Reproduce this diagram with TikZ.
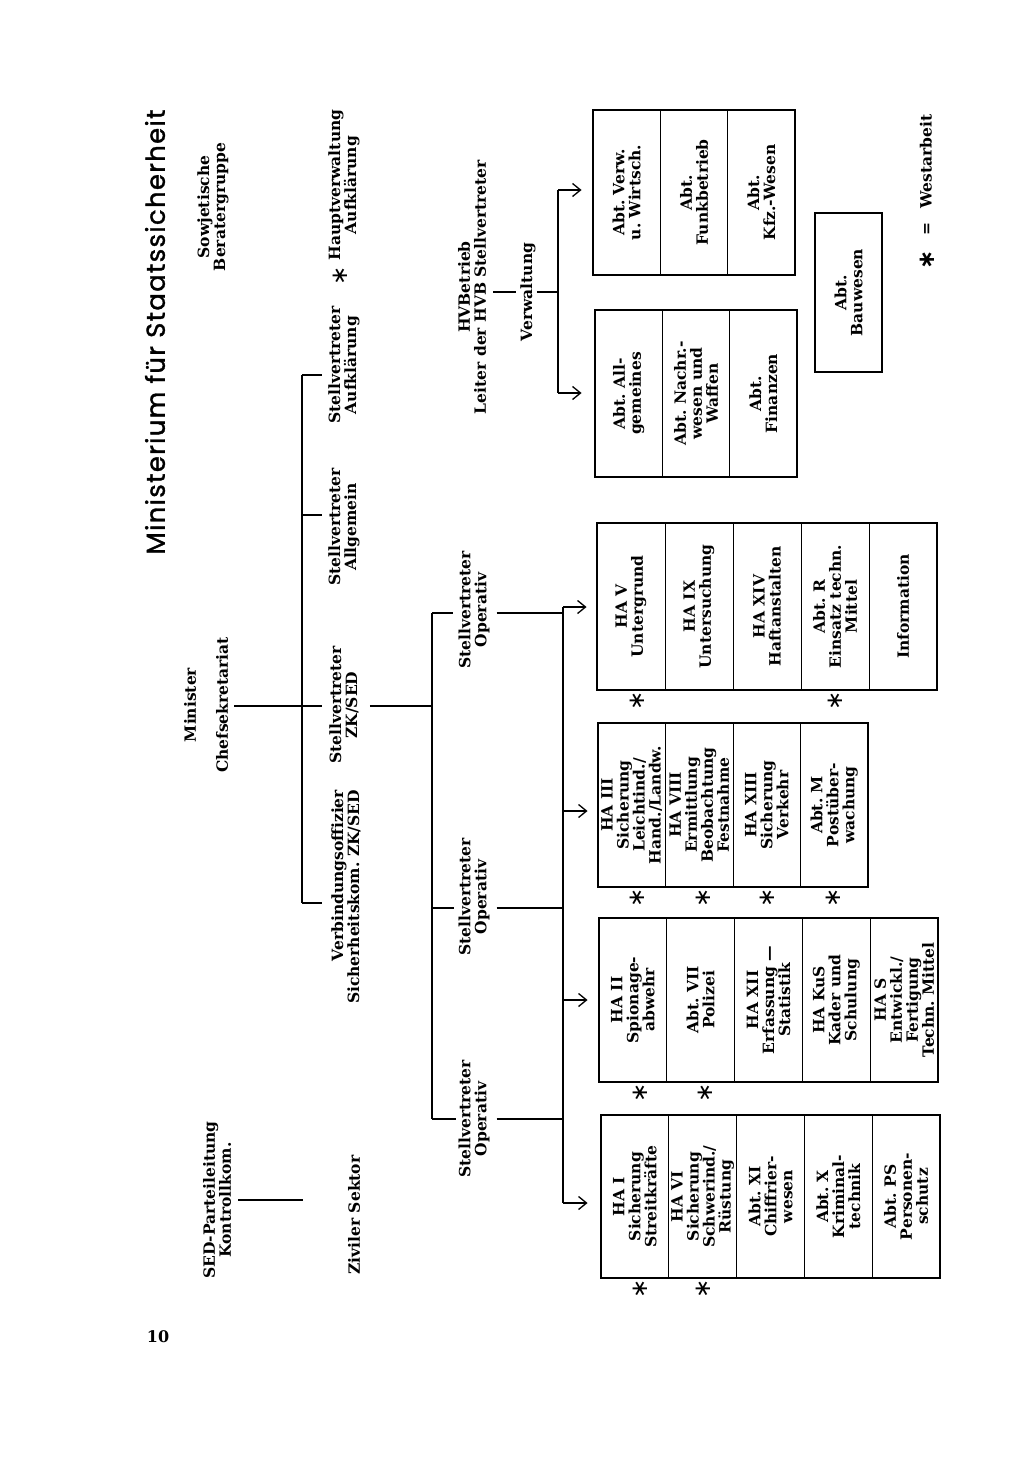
\documentclass[tikz,border=0pt]{standalone}
\usepackage{fontspec}
\setmainfont{DejaVu Serif}
\newfontfamily\titlefont{Poppins}[FakeBold=1.3,LetterSpace=5]
\newfontfamily\starfont{DejaVu Sans}
\usetikzlibrary{arrows.meta}
\newcommand{\mytxtfont}{\fontsize{15.5}{16}\bfseries\selectfont}
\newcommand{\westar}{{\starfont\fontsize{23}{23}\selectfont ∗}}
\frenchspacing
\begin{document}
\begin{tikzpicture}[x=1pt,y=-1pt,
  txt/.style={rotate=90, align=center, font=\mytxtfont, inner sep=1pt},
  cell/.style={draw, line width=0.9pt, rotate=90, align=center, font=\mytxtfont, inner sep=1pt},
  frame/.style={draw, line width=1.6pt},
  ln/.style={line width=1.3pt},
  arr/.style={line width=1.3pt, -{Straight Barb[length=8pt,width=13pt,line width=1.3pt]}},
  star/.style={rotate=90, inner sep=0pt}
]
\useasboundingbox (0,0) rectangle (1024,1466);

% ---- headings
\node[rotate=90, inner sep=0pt] (title) at (155,332) {\resizebox{445pt}{!}{\titlefont Ministerium für Staatssicherheit}};
\node[txt] (sowj) at (213,207) {Sowjetische\\Beratergruppe};
\node[txt] (hva) at (344,185) {Hauptverwaltung\\Aufklärung};
\node[star] (hvastar) at (340,276) {\westar};
\node[txt] (sva) at (344,365) {Stellvertreter\\Aufklärung};
\node[txt] (sval) at (344,527) {Stellvertreter\\Allgemein};
\node[txt] (svzk) at (344,705) {Stellvertreter\\ZK/SED};
\node[txt, align=right] (vo) at (346,897) {Verbindungsoffizier\\Sicherheitskom. ZK/SED};
\node[txt] (minister) at (206,705) {Minister\\[16pt]Chefsekretariat};
\node[txt] (sed) at (217,1200) {SED-Parteileitung\\Kontrollkom.};
\node[txt] (ziv) at (354,1215) {Ziviler Sektor};
\node[font=\fontsize{16}{16}\bfseries\selectfont] (pnum) at (158,1337) {10};

% ---- Minister bracket
\coordinate (b1) at (302,375);
\coordinate (b2) at (302,515);
\coordinate (bm) at (302,706);
\coordinate (b4) at (302,903);
\draw[ln] (b1) -- (b4);
\draw[ln, shorten <=5pt] (minister.south |- bm) -- (bm);
\draw[ln] (b1) -- ++(20,0);
\draw[ln] (b2) -- ++(20,0);
\draw[ln] (bm) -- ++(20,0);
\draw[ln] (b4) -- ++(20,0);

% ---- SED line
\coordinate (sz) at (303,1200);
\draw[ln, shorten <=6pt] (sed.south |- sz) -- (sz);

% ---- Operativ bracket
\coordinate (oz) at (432,706);
\coordinate (o1) at (432,613);
\coordinate (o2) at (432,908);
\coordinate (o3) at (432,1119);
\draw[ln, shorten <=10pt] (svzk.south |- oz) -- (oz);
\draw[ln] (o1) -- (o3);
\draw[ln] (o1) -- ++(21,0);
\draw[ln] (o2) -- ++(22,0);
\draw[ln] (o3) -- ++(24,0);
\node[txt] (op1) at (474,610) {Stellvertreter\\Operativ};
\node[txt] (op2) at (474,897) {Stellvertreter\\Operativ};
\node[txt] (op3) at (474,1119) {Stellvertreter\\Operativ};
\coordinate (v1) at (563,613);
\coordinate (v2) at (563,908);
\coordinate (v3) at (563,1119);
\draw[ln, shorten <=6pt] (op1.south |- v1) -- (v1);
\draw[ln, shorten <=6pt] (op2.south |- v2) -- (v2);
\draw[ln, shorten <=6pt] (op3.south |- v3) -- (v3);
\coordinate (a1) at (563,607);
\coordinate (a2) at (563,811);
\coordinate (a3) at (563,1000);
\coordinate (a4) at (563,1203);
\draw[ln] (a1) -- (a4);

% ---- boxes of the Operativ deputies
\foreach \t [count=\i] in {{HA V\\Untergrund},{HA IX\\Untersuchung},{HA XIV\\Haftanstalten},{Abt. R\\Einsatz techn.\\Mittel},{Information}}
  \node[cell, minimum width=167pt, minimum height=68pt] (ka\i) at ({597+68*(\i-0.5)},606.5) {\t};
\draw[frame] (597,523) rectangle (937,690);

\foreach \t [count=\i] in {{HA III\\Sicherung\\Leichtind./\\Hand./Landw.},{HA VIII\\Ermittlung\\Beobachtung\\Festnahme},{HA XIII\\Sicherung\\Verkehr},{Abt. M\\Postüber-\\wachung}}
  \node[cell, minimum width=164pt, minimum height=67.5pt] (kb\i) at ({598+67.5*(\i-0.5)},805) {\t};
\draw[frame] (598,723) rectangle (868,887);

\foreach \t [count=\i] in {{HA II\\Spionage-\\abwehr},{Abt. VII\\Polizei},{HA XII\\Erfassung —\\Statistik},{HA KuS\\Kader und\\Schulung},{HA S\\Entwickl./\\Fertigung\\Techn. Mittel}}
  \node[cell, minimum width=164pt, minimum height=67.8pt] (kc\i) at ({599+67.8*(\i-0.5)},1000) {\t};
\draw[frame] (599,918) rectangle (938,1082);

\foreach \t [count=\i] in {{HA I\\Sicherung\\Streitkräfte},{HA VI\\Sicherung\\Schwerind./\\Rüstung},{Abt. XI\\Chiffrier-\\wesen},{Abt. X\\Kriminal-\\technik},{Abt. PS\\Personen-\\schutz}}
  \node[cell, minimum width=163pt, minimum height=67.8pt] (kd\i) at ({601+67.8*(\i-0.5)},1196.5) {\t};
\draw[frame] (601,1115) rectangle (940,1278);

\draw[arr, shorten >=10pt] (a1) -- (a1 -| ka1.north);
\draw[arr, shorten >=10pt] (a2) -- (a2 -| kb1.north);
\draw[arr, shorten >=11pt] (a3) -- (a3 -| kc1.north);
\draw[arr, shorten >=13pt] (a4) -- (a4 -| kd1.north);

% ---- Westarbeit stars
\node[star] (s1) at (637,701) {\westar};
\node[star] (s2) at (835,701) {\westar};
\node[star] (s3) at (637,898) {\westar};
\node[star] (s4) at (703,898) {\westar};
\node[star] (s5) at (767,898) {\westar};
\node[star] (s6) at (833,898) {\westar};
\node[star] (s7) at (640,1093) {\westar};
\node[star] (s8) at (705,1093) {\westar};
\node[star] (s9) at (640,1289) {\westar};
\node[star] (s10) at (703,1289) {\westar};

% ---- HV Betrieb
\node[txt] (hvb) at (472,287) {HVBetrieb\\Leiter der HVB Stellvertreter};
\node[txt] (verw) at (528,292) {Verwaltung};
\coordinate (r0) at (558,292);
\coordinate (r1) at (558,190);
\coordinate (r2) at (558,393);
\draw[ln, shorten <=6pt, shorten >=3pt] (hvb.south |- r0) -- (verw.north);
\draw[ln] (verw.south) -- (r0);
\draw[ln] (r1) -- (r2);

\foreach \t [count=\i] in {{Abt. Verw.\\u. Wirtsch.},{Abt.\\Funkbetrieb},{Abt.\\Kfz.-Wesen}}
  \node[cell, minimum width=165pt, minimum height=67.3pt] (ra\i) at ({593+67.33*(\i-0.5)},192.5) {\t};
\draw[frame] (593,110) rectangle (795,275);

\foreach \t [count=\i] in {{Abt. All-\\gemeines},{Abt. Nachr.-\\wesen und\\Waffen},{Abt.\\Finanzen}}
  \node[cell, minimum width=167pt, minimum height=67.3pt] (rb\i) at ({595+67.33*(\i-0.5)},393.5) {\t};
\draw[frame] (595,310) rectangle (797,477);

\draw[arr, shorten >=11pt] (r1) -- (r1 -| ra1.north);
\draw[arr, shorten >=13pt] (r2) -- (r2 -| rb1.north);

\node[cell, line width=1.6pt, minimum width=159pt, minimum height=67pt] (bau) at (848.5,292.5) {Abt.\\Bauwesen};

% ---- legend
\node[txt] (legend) at (927,192) {\raisebox{-2.5pt}{\westar}\hspace{15pt}=\hspace{14pt}Westarbeit};
\end{tikzpicture}
\end{document}
